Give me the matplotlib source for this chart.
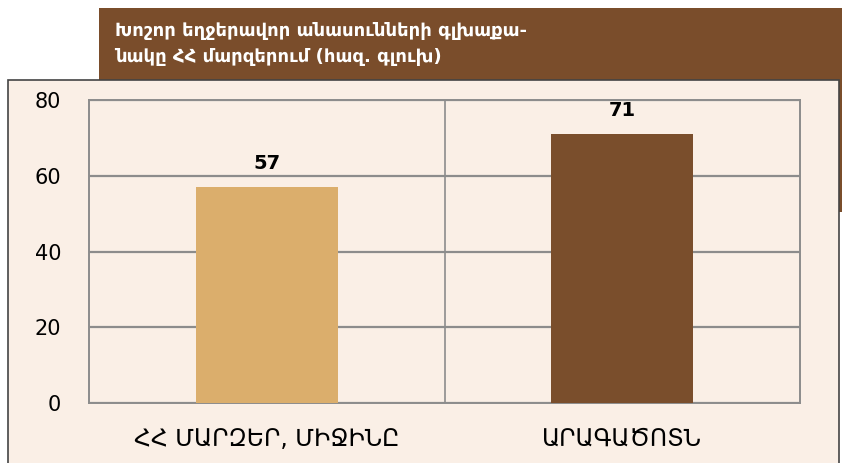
import matplotlib.pyplot as plt
from matplotlib.patches import Rectangle

plt.rcParams['font.family'] = ['DejaVu Sans']

categories = ['ՀՀ ՄԱՐԶԵՐ, ՄԻՋԻՆԸ', 'ԱՐԱԳԱԾՈՏՆ']
values = [57, 71]
bar_colors = ['#DBAE6C', '#7A4E2C']
yticks = [0, 20, 40, 60, 80]
title = 'Խոշոր եղջերավոր անասունների գլխաքա-\nնակը ՀՀ մարզերում (հազ. գլուխ)'

W, H = 842, 463
fig = plt.figure(figsize=(W / 100, H / 100), dpi=100)
fig.patch.set_facecolor('white')

# brown header block behind the panel
fig.add_artist(Rectangle((99 / W, 1 - 212 / H), (W - 99) / W, (212 - 8) / H,
                         transform=fig.transFigure, facecolor='#7A4D2B',
                         edgecolor='none', zorder=0))
fig.text(115 / W, 1 - 44 / H, title, color='white', fontsize=13,
         fontweight='bold', va='center', ha='left', linespacing=1.6)

# light panel
fig.add_artist(Rectangle((8 / W, -0.05), (839 - 8) / W, 1 - 80 / H + 0.05,
                         transform=fig.transFigure, facecolor='#FAEFE6',
                         edgecolor='#444444', linewidth=1.2, zorder=1))

ax = fig.add_axes([89 / W, 1 - 403 / H, (800 - 89) / W, (403 - 100) / H], zorder=2)
ax.set_facecolor('#FAEFE6')
x = range(len(categories))
ax.bar(x, values, width=0.4, color=bar_colors, zorder=3)
for xi, v in zip(x, values):
    ax.text(xi, v + 6.2, str(v), ha='center', va='center', fontsize=14,
            fontweight='bold', color='black')

ax.set_xlim(-0.5, 1.5)
ax.set_ylim(0, 80)
ax.set_yticks(yticks)
ax.set_xticks(list(x))
ax.set_xticklabels(categories, fontsize=17)
ax.tick_params(axis='y', length=0, pad=20, labelsize=15)
ax.tick_params(axis='x', length=0, pad=17)
ax.grid(axis='y', color='#8C8C8C', linewidth=1.6, zorder=0)
ax.axvline(0.5, color='#8C8C8C', linewidth=1.2, zorder=0)
for s in ax.spines.values():
    s.set_color('#8C8C8C')
    s.set_linewidth(1.4)

fig.savefig('out.png', dpi=100)
